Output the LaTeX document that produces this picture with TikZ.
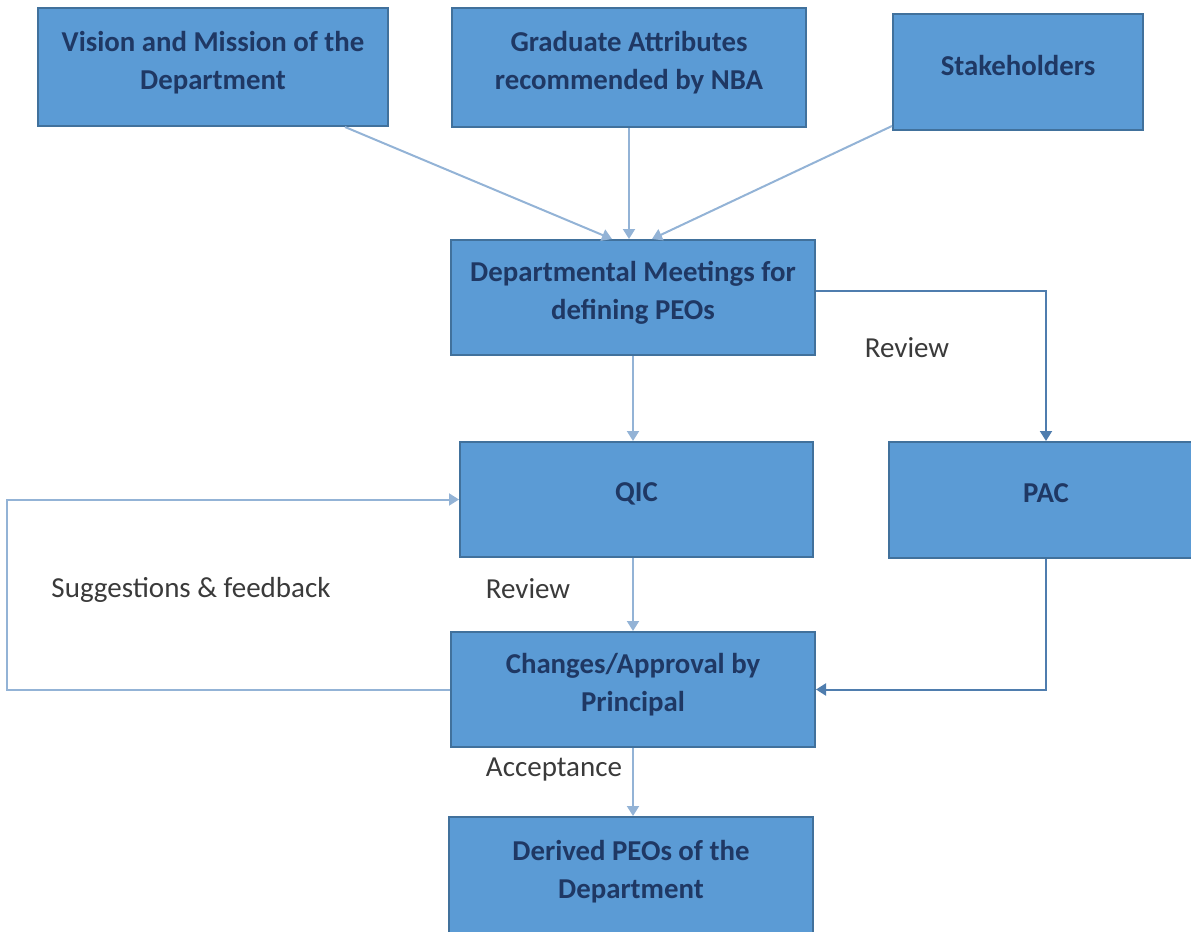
\documentclass[tikz,border=0pt]{standalone}
\usepackage{fontspec}
\setmainfont{Carlito}
\usepackage{xcolor}
\usepackage{tikz}
\usetikzlibrary{arrows.meta,calc}
\definecolor{boxblue}{HTML}{5B9BD5}
\definecolor{boxedge}{HTML}{41719C}
\definecolor{boxtext}{HTML}{1F3864}
\definecolor{linkblue}{HTML}{93B3D6}
\definecolor{linkdark}{HTML}{4F7DAE}
\definecolor{labelgray}{HTML}{3A3A3A}

\begin{document}
\begin{tikzpicture}[x=0.5pt, y=-0.5pt, >={Triangle[width=6pt,length=5pt]},
  stagebox/.style={draw=boxedge, line width=1pt, fill=boxblue, text=boxtext,
    align=center, font=\fontsize{14.4}{19}\selectfont\bfseries, inner sep=0pt,
    text depth=7pt},
  link/.style={->, draw=linkblue, line width=1pt},
  darklink/.style={->, draw=linkdark, line width=1pt},
  steplabel/.style={text=labelgray, font=\fontsize{14.5}{17}\selectfont}]
  \useasboundingbox (0,0) rectangle (1191,932);

  % Eingangsgrößen
  \node[stagebox, minimum width=175pt, minimum height=59pt] (vision) at (213,67)
    {Vision and Mission of the\\Department};
  \node[stagebox, minimum width=177pt, minimum height=59.5pt] (grad) at (629,67.5)
    {Graduate Attributes\\recommended by NBA};
  \node[stagebox, minimum width=125pt, minimum height=58pt] (stake) at (1018,72)
    {Stakeholders};

  % Ablauf
  \node[stagebox, minimum width=182pt, minimum height=57.5pt] (dept) at (633,297.5)
    {Departmental Meetings for\\defining PEOs};
  \node[stagebox, minimum width=176.5pt, minimum height=57.5pt] (qic) at (636.5,499.5) {QIC};
  \node[stagebox, minimum width=157pt, minimum height=58pt] (pac) at (1046,500) {PAC};
  \node[stagebox, minimum width=182pt, minimum height=57.5pt] (chg) at (633,689.5)
    {Changes/Approval by\\Principal};
  \node[stagebox, minimum width=182pt, minimum height=59pt] (der) at (631,876)
    {Derived PEOs of the\\Department};

  % Verbindungen oben
  \draw[link] ($(vision.south)+(132,0)$) -- ($(dept.north)+(-21,0)$);
  \draw[link] (grad.south) -- (grad.south |- dept.north);
  \draw[link] ($(stake.south west)+(0,-5)$) -- ($(dept.north)+(19,0)$);

  % Verbindungen unten
  \draw[link] (dept.south) -- (dept.south |- qic.north);
  \draw[darklink] ($(dept.east)+(0,-7)$) -| (pac.north);
  \draw[link] (chg.north |- qic.south) -- (chg.north);
  \draw[darklink] (pac.south) |- (chg.east);
  \draw[link] (chg.west) -- ++(-443,0) |- (qic.west);
  \draw[link] (chg.south) -- (chg.south |- der.north);

  % Beschriftungen
  \node[steplabel] (revpac) at (907,348) {Review};
  \node[steplabel] (sugg) at (191,590) {Suggestions \& feedback};
  \node[steplabel] (revqic) at (528,589) {Review};
  \node[steplabel] (accept) at (554,770) {Acceptance};
\end{tikzpicture}
\end{document}
